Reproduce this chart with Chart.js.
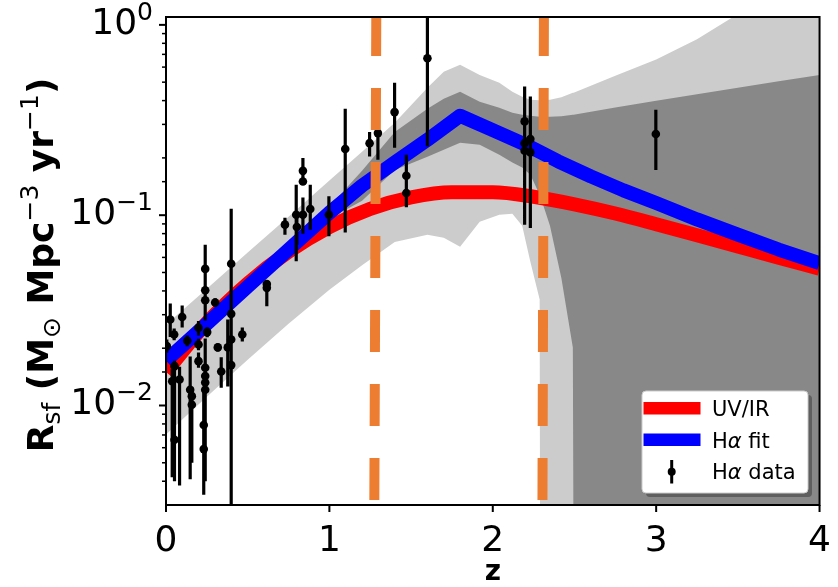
<!DOCTYPE html>
<html>
<head>
<meta charset="utf-8">
<script src="https://cdn.jsdelivr.net/npm/chart.js@4.4.0/dist/chart.umd.min.js"></script>
<style>
  html, body { margin: 0; padding: 0; background: #fff; }
</style>
</head>
<body>
<canvas id="chart" width="838" height="587"></canvas>
<script>
// H-alpha measurements: redshift, rate, and the ends of each error bar
const zData = [0.005, 0.026, 0.05, 0.052, 0.038, 0.052, 0.083, 0.099, 0.13, 0.148, 0.158, 0.158,
  0.199, 0.199, 0.199, 0.24, 0.24, 0.24, 0.252, 0.24, 0.24, 0.24, 0.24, 0.231, 0.231,
  0.301, 0.317, 0.338, 0.399, 0.399, 0.378, 0.399, 0.399, 0.467, 0.617, 0.617,
  0.728, 0.797, 0.801, 0.838, 0.838, 0.838, 0.883, 0.997, 1.097, 1.246, 1.297, 1.399,
  1.471, 1.471, 1.60, 2.195, 2.23, 2.195, 2.195, 2.23, 2.998];
const rData = [0.0205, 0.0283, 0.0236, 0.0161, 0.0134, 0.0066, 0.0137, 0.0292, 0.0219, 0.0121, 0.0112, 0.0101,
  0.0256, 0.0209, 0.0171, 0.0522, 0.0403, 0.0357, 0.0243, 0.0158, 0.0143, 0.0132, 0.0121, 0.0079, 0.0059,
  0.0348, 0.0202, 0.0151, 0.0556, 0.0303, 0.0202, 0.0222, 0.0163, 0.0236, 0.0435, 0.0415,
  0.0892, 0.1006, 0.0867, 0.171, 0.1504, 0.1006, 0.1077, 0.1006, 0.2226, 0.239, 0.27, 0.348,
  0.161, 0.1308, 0.668, 0.311, 0.251, 0.239, 0.218, 0.2138, 0.267];
const rLo = [0.0190, 0.0229, 0.0220, 0.0040, 0.0042, 0.0042, 0.0038, 0.0257, 0.0205, 0.0041, 0.0050, 0.0050,
  0.0233, 0.0195, 0.0158, 0.0340, 0.0300, 0.0280, 0.0228, 0.0090, 0.0060, 0.0050, 0.0040, 0.0034, 0.0034,
  0.0330, 0.0192, 0.0124, 0.0025, 0.0150, 0.0126, 0.0100, 0.0090, 0.0217, 0.0332, 0.0340,
  0.079, 0.0572, 0.070, 0.150, 0.1445, 0.080, 0.0839, 0.0774, 0.081, 0.2036, 0.1955, 0.226,
  0.1112, 0.110, 0.23, 0.0892, 0.0857, 0.20, 0.19, 0.19, 0.173];
const rHi = [0.0222, 0.0343, 0.0254, 0.0172, 0.0155, 0.0090, 0.0160, 0.0335, 0.0233, 0.0181, 0.0125, 0.0115,
  0.0278, 0.0224, 0.0190, 0.0700, 0.0500, 0.0440, 0.0258, 0.0225, 0.0220, 0.0200, 0.0190, 0.0125, 0.0090,
  0.0366, 0.0212, 0.0179, 0.108, 0.0440, 0.0283, 0.0340, 0.0240, 0.0257, 0.0449, 0.0440,
  0.097, 0.1445, 0.100, 0.200, 0.170, 0.124, 0.1445, 0.1256, 0.362, 0.274, 0.285, 0.496,
  0.208, 0.150, 1.5, 0.474, 0.42, 0.28, 0.25, 0.24, 0.358];

// UV/IR curve
const zUV = [0, 0.25, 0.5, 0.75, 1, 1.25, 1.5, 1.75, 2, 2.25, 2.5, 2.75, 3, 3.25, 3.5, 3.75, 4];
const rUV = [0.0150, 0.0272, 0.0438, 0.0642, 0.0867, 0.108, 0.124, 0.132, 0.132, 0.125, 0.114,
  0.102, 0.0897, 0.0785, 0.0685, 0.0598, 0.0523];

// H-alpha fit
const zHa = [0, 0.25, 0.5, 0.75, 1.0, 1.2, 1.4, 1.6, 1.8, 2.0, 2.2, 2.4, 2.6, 2.8, 3.0, 3.25, 3.5, 3.75, 4.0];
const rHa = [0.0172, 0.0269, 0.0421, 0.0659, 0.103, 0.143, 0.189, 0.249, 0.333, 0.28, 0.235, 0.192,
  0.160, 0.135, 0.116, 0.095, 0.079, 0.066, 0.056];

// shaded ranges, all on one redshift grid
const zBand = [0, 0.25, 0.5, 0.75, 1.0, 1.2, 1.4, 1.6, 1.7, 1.8, 1.92, 2.04, 2.12, 2.18, 2.23, 2.287,
  2.29, 2.35, 2.42, 2.49, 2.495, 2.75, 3.0, 3.25, 3.5, 3.75, 4.0];
const lightUpper = [0.0266, 0.0411, 0.0636, 0.0982, 0.152, 0.2155, 0.306, 0.467, 0.567, 0.617, 0.546,
  0.496, 0.445, 0.419, 0.404, 0.402, 0.402, 0.404, 0.416, 0.440, 0.440, 0.540, 0.658, 0.841, 1.14, 1.55, 2.09];
const lightLower = [0.00705, 0.0111, 0.0174, 0.0269, 0.0406, 0.0546, 0.0722, 0.0790, 0.0762, 0.0683, 0.0924,
  0.1006, 0.1018, 0.0881, 0.0570, 0.0360, 0.001, 0.001, 0.001, 0.001, 0.001, 0.001, 0.001, 0.001, 0.001, 0.001, 0.001];
const darkUpper = [0.0185, 0.0290, 0.0453, 0.0709, 0.111, 0.171, 0.274, 0.362, 0.409, 0.445, 0.394,
  0.367, 0.345, 0.337, 0.333, 0.329, 0.329, 0.329, 0.331, 0.337, 0.337, 0.368, 0.399, 0.432, 0.467, 0.505, 0.546];
const darkLower = [0.0160, 0.0251, 0.0392, 0.0613, 0.0959, 0.119, 0.173, 0.203, 0.221, 0.240, 0.2345,
  0.208, 0.189, 0.178, 0.163, 0.128, 0.1266, 0.0881, 0.0466, 0.0202, 0.001, 0.001, 0.001, 0.001, 0.001, 0.001, 0.001];

// vertical dashed markers (bottom and top redshift of each)
const zMarkA = [1.275, 1.287];
const zMarkB = [2.304, 2.313];

const yMajor = [1, 0.1, 0.01];
const yMajorLabels = [['10', '0'], ['10', '\u22121'], ['10', '\u22122']];

const pts = (xs, ys) => xs.map((x, i) => ({ x: x, y: ys[i] }));

function drawRuns(ctx, runs, x, y) {
  runs.forEach(r => {
    ctx.font = r.font;
    ctx.fillText(r.t, x, y + (r.dy || 0));
    x += ctx.measureText(r.t).width;
  });
}
function runsWidth(ctx, runs) {
  let w = 0;
  runs.forEach(r => { ctx.font = r.font; w += ctx.measureText(r.t).width; });
  return w;
}

const errorBars = {
  id: 'errorBars',
  beforeDatasetDraw(chart, args) {
    if (chart.data.datasets[args.index].label !== 'Hα data') return;
    const { ctx, chartArea: a } = chart;
    const x = chart.scales.x, y = chart.scales.y;
    ctx.save();
    ctx.beginPath();
    ctx.rect(a.left, a.top, a.right - a.left, a.bottom - a.top);
    ctx.clip();
    ctx.strokeStyle = '#000';
    ctx.lineWidth = 3.2;
    ctx.beginPath();
    zData.forEach((z, i) => {
      const px = x.getPixelForValue(z);
      ctx.moveTo(px, y.getPixelForValue(rLo[i]));
      ctx.lineTo(px, y.getPixelForValue(rHi[i]));
    });
    ctx.stroke();
    ctx.restore();
  }
};

const decor = {
  id: 'decor',
  afterDraw(chart) {
    const { ctx, chartArea: a } = chart;
    const x = chart.scales.x, y = chart.scales.y;
    ctx.save();
    ctx.strokeStyle = '#000';
    ctx.fillStyle = '#000';

    // frame
    ctx.lineWidth = 2;
    ctx.strokeRect(a.left, a.top, a.right - a.left, a.bottom - a.top);

    // tick marks
    ctx.beginPath();
    x.ticks.forEach(t => {
      const px = x.getPixelForValue(t.value);
      ctx.moveTo(px, a.bottom);
      ctx.lineTo(px, a.bottom + 7);
    });
    ctx.stroke();
    y.ticks.forEach(t => {
      const v = t.value;
      if (v <= y.min * 1.001 || v >= y.max * 0.999) return;
      const major = Math.abs(Math.log10(v) - Math.round(Math.log10(v))) < 1e-6;
      const py = y.getPixelForValue(v);
      ctx.lineWidth = major ? 2 : 1.5;
      ctx.beginPath();
      ctx.moveTo(a.left, py);
      ctx.lineTo(a.left - (major ? 7 : 4), py);
      ctx.stroke();
    });

    // y tick labels 10^n
    ctx.textBaseline = 'alphabetic';
    ctx.textAlign = 'left';
    yMajor.forEach((v, i) => {
      const py = y.getPixelForValue(v);
      const runs = [
        { t: yMajorLabels[i][0], font: '36px "DejaVu Sans"', dy: 0 },
        { t: yMajorLabels[i][1], font: '25px "DejaVu Sans"', dy: -14 }
      ];
      const w = runsWidth(ctx, runs);
      drawRuns(ctx, runs, 153 - w, py + 9);
    });

    // y axis title
    const B = 'bold 36px "DejaVu Sans"', S = '25px "DejaVu Sans"';
    const title = [
      { t: 'R', font: B }, { t: 'sf', font: S, dy: 7 }, { t: ' (M', font: B },
      { t: '\u2299', font: S, dy: 7 }, { t: ' Mpc', font: B }, { t: '\u22123', font: S, dy: -15 },
      { t: ' yr', font: B }, { t: '\u22121', font: S, dy: -15 }, { t: ')', font: B }
    ];
    ctx.save();
    ctx.translate(53, (a.top + a.bottom) / 2 + 4);
    ctx.rotate(-Math.PI / 2);
    drawRuns(ctx, title, -runsWidth(ctx, title) / 2, 0);
    ctx.restore();

    // legend
    const L = { x: 642, y: 391, w: 166, h: 102, r: 4 };
    ctx.fillStyle = 'rgba(0,0,0,0.3)';
    ctx.beginPath();
    ctx.roundRect(L.x + 4, L.y + 4, L.w, L.h, L.r);
    ctx.fill();
    ctx.fillStyle = '#fff';
    ctx.strokeStyle = '#cccccc';
    ctx.lineWidth = 1;
    ctx.beginPath();
    ctx.roundRect(L.x, L.y, L.w, L.h, L.r);
    ctx.fill();
    ctx.stroke();

    ctx.fillStyle = '#ff0000';
    ctx.fillRect(643.5, 402, 57, 12.5);
    ctx.fillStyle = '#0000ff';
    ctx.fillRect(643.5, 433.5, 57, 12.5);
    ctx.strokeStyle = '#000';
    ctx.lineWidth = 3;
    ctx.beginPath();
    ctx.moveTo(671.7, 460);
    ctx.lineTo(671.7, 483.5);
    ctx.stroke();
    ctx.fillStyle = '#000';
    ctx.beginPath();
    ctx.arc(671.7, 471.7, 4, 0, Math.PI * 2);
    ctx.fill();

    const F = '21px "DejaVu Sans"', FI = 'italic 21px "DejaVu Sans"';
    drawRuns(ctx, [{ t: 'UV/IR', font: F }], 712, 416);
    drawRuns(ctx, [{ t: 'H', font: F }, { t: 'α', font: FI }, { t: ' fit', font: F }], 712, 447.5);
    drawRuns(ctx, [{ t: 'H', font: F }, { t: 'α', font: FI }, { t: ' data', font: F }], 712, 479);

    ctx.restore();
  }
};

const common = { pointRadius: 0, pointHoverRadius: 0, clip: 0 };

new Chart(document.getElementById('chart'), {
  type: 'line',
  data: {
    datasets: [
      Object.assign({ label: 'markA', data: pts(zMarkA, [0.003, 1.1]), borderColor: '#ed7d31',
        borderWidth: 10, borderDash: [42, 32], borderDashOffset: 69, borderCapStyle: 'butt', order: 0 }, common),
      Object.assign({ label: 'markB', data: pts(zMarkB, [0.003, 1.1]), borderColor: '#ed7d31',
        borderWidth: 10, borderDash: [42, 32], borderDashOffset: 69, borderCapStyle: 'butt', order: 0 }, common),
      { label: 'Hα data', data: pts(zData, rData), showLine: false, pointRadius: 4.3, pointHoverRadius: 4.3,
        pointBackgroundColor: '#000', pointBorderWidth: 0, borderColor: '#000', order: 1, clip: 0 },
      Object.assign({ label: 'Hα fit', data: pts(zHa, rHa), borderColor: '#0000ff', borderWidth: 14,
        borderJoinStyle: 'round', order: 2 }, common),
      Object.assign({ label: 'UV/IR', data: pts(zUV, rUV), borderColor: '#ff0000', borderWidth: 14,
        cubicInterpolationMode: 'monotone', borderJoinStyle: 'round', order: 3 }, common),
      Object.assign({ label: 'dark upper', data: pts(zBand, darkUpper), borderWidth: 0, borderColor: 'transparent',
        backgroundColor: '#888888', fill: { target: 6, above: '#888888', below: '#888888' }, order: 4 }, common),
      Object.assign({ label: 'dark lower', data: pts(zBand, darkLower), borderWidth: 0, borderColor: 'transparent',
        fill: false, order: 4 }, common),
      Object.assign({ label: 'light upper', data: pts(zBand, lightUpper), borderWidth: 0, borderColor: 'transparent',
        backgroundColor: '#cccccc', fill: { target: 8, above: '#cccccc', below: '#cccccc' }, order: 5 }, common),
      Object.assign({ label: 'light lower', data: pts(zBand, lightLower), borderWidth: 0, borderColor: 'transparent',
        fill: false, order: 5 }, common)
    ]
  },
  options: {
    responsive: false,
    animation: false,
    events: [],
    layout: { padding: { top: 17, right: 18, left: 0, bottom: 0 } },
    plugins: { legend: { display: false }, tooltip: { enabled: false } },
    scales: {
      x: {
        type: 'linear', min: 0, max: 4,
        grid: { display: false }, border: { display: false },
        ticks: { stepSize: 1, color: '#000', padding: 7, maxRotation: 0,
          font: { family: 'DejaVu Sans', size: 36 } },
        title: { display: true, text: 'z', color: '#000', padding: 0,
          font: { family: 'DejaVu Sans', size: 28, weight: 'bold', lineHeight: 1 } },
        afterFit: s => { s.height = 82; }
      },
      y: {
        type: 'logarithmic', min: 0.003, max: 1.1,
        grid: { display: false }, border: { display: false },
        ticks: { display: false },
        afterFit: s => { s.width = 166; }
      }
    }
  },
  plugins: [errorBars, decor]
});
</script>
</body>
</html>
